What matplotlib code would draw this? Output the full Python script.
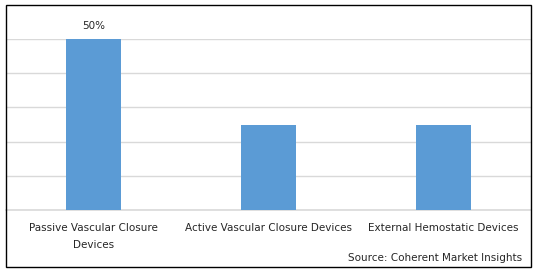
import matplotlib.pyplot as plt
from matplotlib.patches import Rectangle

categories = ["Passive Vascular Closure\nDevices", "Active Vascular Closure Devices",
              "External Hemostatic Devices"]
shares = [50, 25, 25]
labels = ["50%", "", ""]

W, H = 538, 272
fig = plt.figure(figsize=(W / 100, H / 100), dpi=100)
ax = fig.add_axes([6 / W, (H - 210) / H, 525 / W, 171 / H])

x = range(len(categories))
bars = ax.bar(x, shares, width=0.314, color="#5B9BD5", zorder=3)
for b, lab in zip(bars, labels):
    if lab:
        ax.text(b.get_x() + b.get_width() / 2, b.get_height() + 3.8, lab,
                ha="center", va="center", fontsize=7.5, color="#262626", clip_on=False)

ax.set_xlim(-0.5, 2.5)
ax.set_ylim(0, 50)
ax.set_yticks([0, 10, 20, 30, 40, 50])
ax.yaxis.grid(True, color="#D9D9D9", linewidth=1)
ax.axhline(0, color="#D9D9D9", linewidth=1.2, clip_on=False, zorder=2)
ax.tick_params(left=False, labelleft=False, bottom=False)
ax.set_xticks(list(x))
ax.set_xticklabels(categories, fontsize=7.5, color="#262626", linespacing=1.8)
ax.tick_params(axis="x", pad=6)
for s in ax.spines.values():
    s.set_visible(False)

fig.text(522 / W, 1 - 258 / H, "Source: Coherent Market Insights", ha="right",
         va="center", fontsize=7.5, color="#262626")
fig.patches.append(Rectangle((6 / W, 1 - 267 / H), 525 / W, 262 / H, transform=fig.transFigure,
                             fill=False, edgecolor="black", linewidth=1))

fig.savefig("out.png", dpi=100)
